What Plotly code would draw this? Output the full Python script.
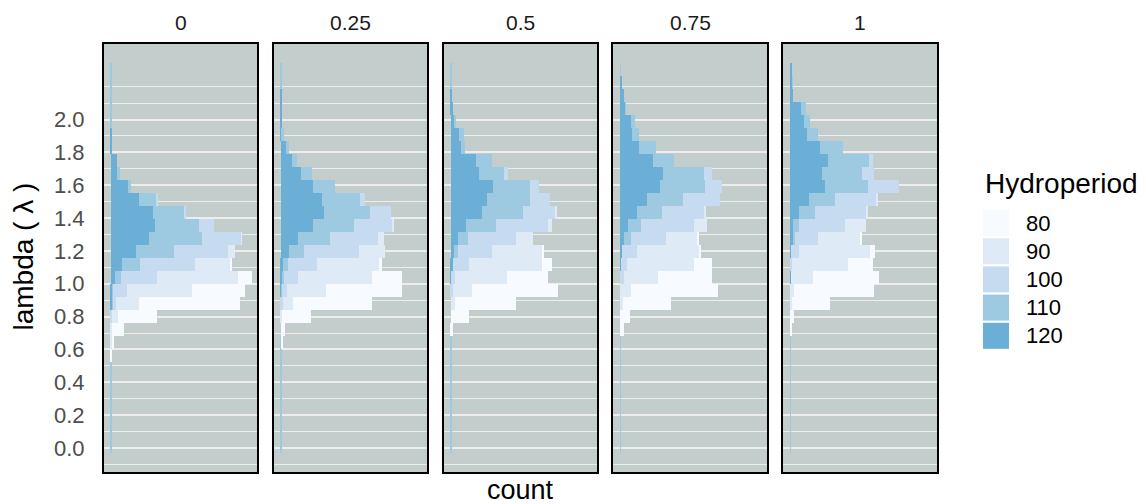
import plotly.graph_objects as go

# ---------------- data ----------------
facets = ["0", "0.25", "0.5", "0.75", "1"]
hydroperiods = ["80", "90", "100", "110", "120"]
colors = ["#F7FBFF", "#DEEBF7", "#C6DBEF", "#9ECAE1", "#6BAED6"]

# histogram bin centres of lambda (30 bins, bottom to top)
lambda_bins = [0.012, 0.091, 0.170, 0.249, 0.328, 0.407, 0.486, 0.565, 0.644, 0.723,
               0.802, 0.881, 0.960, 1.039, 1.118, 1.197, 1.276, 1.355, 1.434, 1.513,
               1.592, 1.671, 1.750, 1.829, 1.908, 1.987, 2.066, 2.145, 2.224, 2.303]
bin_width = 0.079

y_tick_vals = [0.0, 0.2, 0.4, 0.6, 0.8, 1.0, 1.2, 1.4, 1.6, 1.8, 2.0]
y_tick_text = ["0.0", "0.2", "0.4", "0.6", "0.8", "1.0", "1.2", "1.4", "1.6", "1.8", "2.0"]
y_minor_vals = [-0.1, 0.1, 0.3, 0.5, 0.7, 0.9, 1.1, 1.3, 1.5, 1.7, 1.9, 2.1, 2.2]

# counts per bin (bottom to top) for each facet / hydroperiod
p0_80 = [0, 0, 0, 0, 0, 0, 0, 1, 2, 12, 39, 101, 53, 14, .7, 0, 0, 0, 0, 0, 0, 0, 0, 0, 0, 0, 0, 0, 0, 0]
p0_90 = [0, 0, 0, 0, 0, 0, 0, 0, .7, 1, 6, 23, 65, 81, 36, 7, .7, 0, 0, 0, 0, 0, 0, 0, 0, 0, 0, 0, 0, 0]
p0_100 = [0, 0, 0, 0, 0, 0, 0, 0, 0, 0, 1, 2.7, 13.7, 36, 55, 54, 39.7, 15, 2.3, .3, 0, 0, 0, 0, 0, 0, 0, 0, 0, 0]
p0_110 = [1.2, .6, .6, .6, .6, .6, .6, 0, 0, 0, 0, .3, .3, 6, 18, 38, 53, 44, 31, 18, 3, 2.7, 0, 0, 0, .6, .6, .6, .6, .6]
p0_120 = [0, 0, 0, 0, 0, 0, 0, 0, 0, 0, 0, 2, 2, 4, 11, 25, 38, 44, 42, 28, 17, 6, 6, 1, 1, 0, 0, 0, 0, 0]

p25_80 = [0, 0, 0, 0, 0, 0, 0, 0, .5, 4, 29, 79, 76, 30, 3, 0, 0, 0, 0, 0, 0, 0, 0, 0, 0, 0, 0, 0, 0, 0]
p25_90 = [0, 0, 0, 0, 0, 0, 0, 0, 0, 0, 1, 10, 39, 74, 62, 26, 6, .7, 0, 0, 0, 0, 0, 0, 0, 0, 0, 0, 0, 0]
p25_100 = [0, 0, 0, 0, 0, 0, 0, 0, 0, 0, 0, 2, 5, 14, 29, 55, 48, 39.3, 21, 5.7, 0, 0, 0, 0, 0, 0, 0, 0, 0, 0]
p25_110 = [.6, .6, .6, .6, .6, .6, .6, .6, .6, 0, 0, 0, .5, 2, 5, 15, 32, 41, 46, 38, 22, 11, 5, 2, 1.7, 0, 0, 0, .6, .6]
p25_120 = [0, 0, 0, 0, 0, 0, 0, 0, 0, 0, 0, 0, .5, 1, 2, 8, 17, 32, 43, 41, 32, 20, 11, 6, 1, 1, .7, .5, 0, 0]

p50_80 = [0, 0, 0, 0, 0, 0, 0, 0, 0, 2, 18, 61, 86, 41, 10, 1, 0, 0, 0, 0, 0, 0, 0, 0, 0, 0, 0, 0, 0, 0]
p50_90 = [0, 0, 0, 0, 0, 0, 0, 0, 0, 0, 0, 4, 19, 52, 73, 51, 17, 4, 1, 0, 0, 0, 0, 0, 0, 0, 0, 0, 0, 0]
p50_100 = [0, 0, 0, 0, 0, 0, 0, 0, 0, 0, 0, 0, 2, 3.5, 16, 34, 48, 52, 33, 20, 9, 4, 0, 0, 0, 0, 0, 0, 0, 0]
p50_110 = [.6, .6, .6, .6, .6, .6, .6, .6, .6, 0, 0, 0, 0, 0, 0, 4, 10, 30, 41, 43, 37, 25, 16, 4, 5, 1, 0, 0, .6, .6]
p50_120 = [0, 0, 0, 0, 0, 0, 0, 0, 0, 0, 0, 0, 0, .5, 2, 3, 7, 15, 31, 36, 42, 28, 25, 10, 8, 4, 2, 1, 0, 0]

p75_80 = [0, 0, 0, 0, 0, 0, 0, 0, 0, 3.7, 9.7, 48, 87, 54, 18, 1, 1, 0, 0, 0, 0, 0, 0, 0, 0, 0, 0, 0, 0, 0]
p75_90 = [0, 0, 0, 0, 0, 0, 0, 0, 0, 0, 0, 2.7, 10.7, 34, 67, 62, 31, 13, 1, 0, 0, 0, 0, 0, 0, 0, 0, 0, 0, 0]
p75_100 = [0, 0, 0, 0, 0, 0, 0, 0, 0, 0, 0, 0, 0, 3.7, 6, 15, 35, 53, 42, 37, 17, 8, 0, 0, 0, 0, 0, 0, 0, 0]
p75_110 = [.6, .6, .6, .6, .6, .6, .6, .6, .6, 0, 0, 0, 0, 0, 0, 0, 7, 13, 25, 36, 45, 41, 21, 17, 7, 4, .7, 0, 0, .6]
p75_120 = [0, 0, 0, 0, 0, 0, 0, 0, 0, 0, 0, 0, 0, 0, 1, 2, 4, 8, 17, 27, 40, 43, 33, 19, 12, 11, 5, 4, 1, 0]

p1_80 = [0, 0, 0, 0, 0, 0, 0, 0, 0, 2, 4, 38, 80, 66, 25, 5, 1, 0, 0, 0, 0, 0, 0, 0, 0, 0, 0, 0, 0, 0]
p1_90 = [0, 0, 0, 0, 0, 0, 0, 0, 0, 0, 0, 2, 4, 22.5, 56, 71, 42, 21, 2, 1, 0, 0, 0, 0, 0, 0, 0, 0, 0, 0]
p1_100 = [0, 0, 0, 0, 0, 0, 0, 0, 0, 0, 0, 0, 0, 0, 2, 8, 23, 46, 51, 41, 31, 12, 4, 0, 0, 0, 0, 0, 0, 0]
p1_110 = [.6, .6, .6, .6, .6, .6, .6, .6, .6, 0, 0, 0, 0, 0, 0, 0, 2, 6, 16, 26, 43, 40, 41, 23, 11, 6, 5, 0, .7, 0]
p1_120 = [0, 0, 0, 0, 0, 0, 0, 0, 0, 0, 0, 0, 0, .5, 0, 1, 3, 3, 9, 19, 35, 32, 38, 30, 17, 14, 11, 3, 2, 1]

counts = {
    "0": [p0_80, p0_90, p0_100, p0_110, p0_120],
    "0.25": [p25_80, p25_90, p25_100, p25_110, p25_120],
    "0.5": [p50_80, p50_90, p50_100, p50_110, p50_120],
    "0.75": [p75_80, p75_90, p75_100, p75_110, p75_120],
    "1": [p1_80, p1_90, p1_100, p1_110, p1_120],
}

# ---------------- layout helpers ----------------
W, H = 1146, 504
FONT = "Liberation Sans, Arial, sans-serif"
panel_px = [(104, 257), (274, 427), (444, 597), (613, 767), (783, 937)]
y_dom = [(H - 472) / H, (H - 44) / H]
x_range = [-7.0, 146.5]
y_range = [-0.146, 2.46]
bg = "#C3CDCB"
grid = "#EDEDED"

fig = go.Figure()
layout = dict(
    width=W, height=H, autosize=False,
    margin=dict(l=0, r=0, t=0, b=0),
    paper_bgcolor="white", plot_bgcolor=bg,
    barmode="stack", bargap=0,
    showlegend=False,
    font=dict(family=FONT, color="black"),
)

annotations = []
shapes = []

for i, f in enumerate(facets):
    n = "" if i == 0 else str(i + 1)
    xa, ya = "x" + n, "y" + n
    # stack: 120 nearest the axis, 80 outermost
    for j in reversed(range(len(hydroperiods))):
        fig.add_trace(go.Bar(
            y=lambda_bins, x=counts[f][j], orientation="h", width=bin_width,
            marker=dict(color=colors[j], line=dict(width=0)),
            name=hydroperiods[j], xaxis=xa, yaxis=ya,
            hovertemplate="λ=%{y:.2f}<br>count=%{x}<extra>" + hydroperiods[j] + "</extra>",
        ))
    x0, x1 = panel_px[i]
    layout["xaxis" + n] = dict(
        domain=[x0 / W, x1 / W], range=x_range, anchor=ya,
        showticklabels=False, ticks="", showgrid=False, zeroline=False,
        showline=True, mirror=True, linecolor="black", linewidth=2,
    )
    layout["yaxis" + n] = dict(
        domain=y_dom, range=y_range, anchor=xa,
        tickmode="array", tickvals=y_tick_vals, ticktext=y_tick_text,
        showticklabels=(i == 0), ticks="",
        tickfont=dict(family=FONT, size=22, color="#4D4D4D"),
        ticklabelstandoff=13,
        showgrid=True, gridcolor=grid, gridwidth=2,
        minor=dict(tickmode="array", tickvals=y_minor_vals, showgrid=True,
                   gridcolor=grid, gridwidth=1, ticks=""),
        zeroline=False,
        showline=True, mirror=True, linecolor="black", linewidth=2,
    )
    annotations.append(dict(
        text=f, x=(x0 + x1) / 2 / W, y=1 - 23 / H, xref="paper", yref="paper",
        xanchor="center", yanchor="middle", showarrow=False,
        font=dict(family=FONT, size=21, color="#1A1A1A"),
    ))

# axis titles
annotations.append(dict(
    text="count", x=520.5 / W, y=1 - 490 / H, xref="paper", yref="paper",
    xanchor="center", yanchor="middle", showarrow=False,
    font=dict(family=FONT, size=27, color="black"),
))
annotations.append(dict(
    text="lambda ( λ )", x=22.5 / W, y=1 - 257 / H, xref="paper", yref="paper",
    xanchor="center", yanchor="middle", showarrow=False, textangle=-90,
    font=dict(family=FONT, size=28, color="black"),
))

# legend (drawn manually to match key sizes)
annotations.append(dict(
    text="Hydroperiod", x=983 / W, y=1 - 183 / H, xref="paper", yref="paper",
    xanchor="left", yanchor="middle", showarrow=False,
    font=dict(family=FONT, size=28, color="black"),
))
key_top0, key_step, key_size = 210, 28.2, 26
for j, hp in enumerate(hydroperiods):
    top = key_top0 + j * key_step
    shapes.append(dict(
        type="rect", xref="paper", yref="paper",
        x0=983 / W, x1=(983 + key_size) / W,
        y0=1 - (top + key_size) / H, y1=1 - top / H,
        fillcolor=colors[j], line=dict(width=0), layer="above",
    ))
    annotations.append(dict(
        text=hp, x=1024 / W, y=1 - (top + key_size / 2) / H, xref="paper", yref="paper",
        xanchor="left", yanchor="middle", showarrow=False,
        font=dict(family=FONT, size=22, color="black"),
    ))

layout["annotations"] = annotations
layout["shapes"] = shapes
fig.update_layout(**layout)

fig.write_html(
    "out.html",
    config={"displayModeBar": False},
    post_script="document.body.style.margin='0';document.body.style.padding='0';"
                "document.documentElement.style.overflow='hidden';",
)
